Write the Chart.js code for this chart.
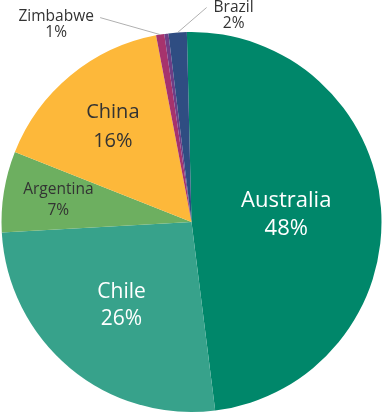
<!DOCTYPE html>
<html>
<head>
<meta charset="utf-8">
<script src="https://cdn.jsdelivr.net/npm/chart.js@4.4.1/dist/chart.umd.min.js"></script>
<style>
  html, body { margin: 0; padding: 0; background: #ffffff; }
  canvas { display: block; }
</style>
</head>
<body>
<canvas id="c" width="383" height="415"></canvas>
<script>
const categories = ["Australia", "Chile", "Argentina", "China", "Zimbabwe", "Other", "Brazil"];
const shares = [48.4, 26.1, 6.9, 16.0, 0.7, 0.35, 1.55];
const sliceColors = ["#00876a", "#37a28b", "#6daf60", "#fdb83a", "#a6336d", "#6e3e86", "#2f4d82"];

// label placement/styling (not data)
const labelStyle = {
  Australia: { mode: "in", frac: 0.5, size: 22, gap: 28, color: "#ffffff" },
  Chile:     { mode: "in", frac: 0.575, size: 21, gap: 27, color: "#ffffff" },
  Argentina: { mode: "in", frac: 0.71, size: 15.5, gap: 21, color: "#333333" },
  China:     { mode: "in", frac: 0.65, size: 20, gap: 29, color: "#333333" },
  Zimbabwe:  { mode: "out", ox: -60, oy: -17, tx: -44, ty: -1, gap: 16, size: 15.5, color: "#333333" },
  Brazil:    { mode: "out", ox: 29, oy: -25, tx: 27, ty: 0, gap: 16, size: 15.5, color: "#333333" }
};

const FONT = "'Open Sans', 'DejaVu Sans', sans-serif";

const labelPlugin = {
  id: "sliceLabels",
  afterDatasetsDraw(chart) {
    const ctx = chart.ctx;
    const meta = chart.getDatasetMeta(0);
    const data = chart.data.datasets[0].data;
    const total = data.reduce((a, b) => a + b, 0);
    meta.data.forEach((arc, i) => {
      const name = chart.data.labels[i];
      const st = labelStyle[name];
      if (!st) return;
      const p = arc.getProps(["x", "y", "startAngle", "endAngle", "outerRadius"], true);
      const mid = (p.startAngle + p.endAngle) / 2;
      const pct = Math.round(data[i] / total * 100) + "%";
      ctx.save();
      ctx.textAlign = "center";
      ctx.textBaseline = "middle";
      ctx.fillStyle = st.color;
      ctx.font = "400 " + st.size + "px " + FONT;
      if (st.mode === "in") {
        const r = p.outerRadius * st.frac;
        const lx = p.x + Math.cos(mid) * r;
        const ly = p.y + Math.sin(mid) * r;
        ctx.fillText(name, lx, ly - st.gap / 2);
        ctx.fillText(pct, lx, ly + st.gap / 2);
      } else {
        const ex = p.x + Math.cos(mid) * p.outerRadius;
        const ey = p.y + Math.sin(mid) * p.outerRadius;
        const px = ex + st.ox, py = ey + st.oy;
        ctx.strokeStyle = "#b0b0b0";
        ctx.lineWidth = 1;
        ctx.beginPath();
        ctx.moveTo(ex, ey);
        ctx.lineTo(px, py);
        ctx.stroke();
        const tx = px + st.tx, ty = py + st.ty;
        ctx.fillText(name, tx, ty);
        ctx.fillText(pct, tx, ty + st.gap);
      }
      ctx.restore();
    });
  }
};

new Chart(document.getElementById("c"), {
  type: "pie",
  data: {
    labels: categories,
    datasets: [{
      data: shares,
      backgroundColor: sliceColors,
      borderWidth: 0
    }]
  },
  options: {
    responsive: false,
    animation: false,
    rotation: -1.4,
    layout: { padding: { top: 32, bottom: 3, left: 1, right: 1 } },
    plugins: {
      legend: { display: false },
      tooltip: { enabled: false },
      title: { display: false }
    }
  },
  plugins: [labelPlugin]
});
</script>
</body>
</html>
